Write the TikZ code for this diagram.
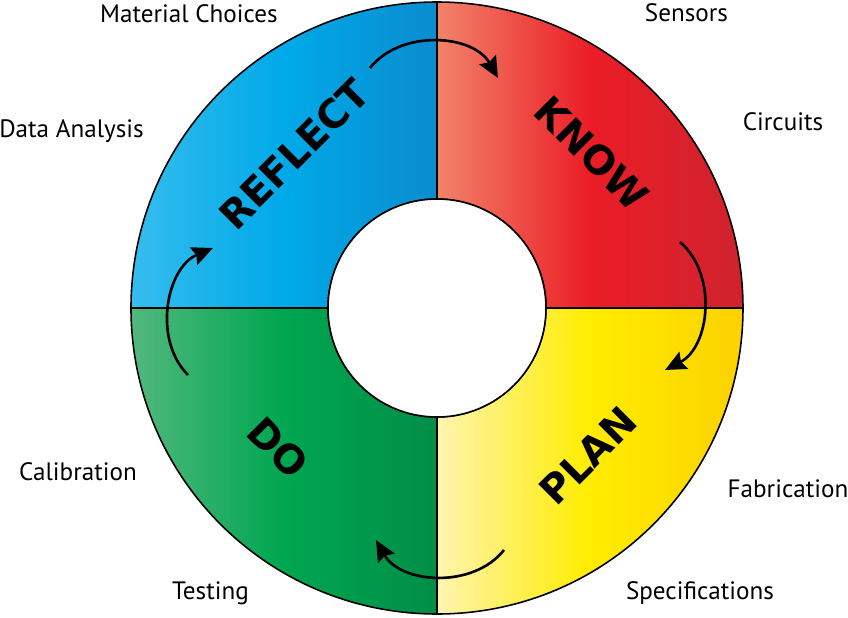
\documentclass[tikz,border=0pt]{standalone}
\usepackage{fontspec}
\setmainfont{PT Sans}
\newfontfamily\heavyfont{DejaVu Sans}
\usetikzlibrary{arrows.meta,positioning}
\definecolor{blueL}{HTML}{36BDEE}
\definecolor{blueM}{HTML}{00A9E8}
\definecolor{blueR}{HTML}{0A8CCF}
\definecolor{redL}{HTML}{F2836A}
\definecolor{redM}{HTML}{EB1D26}
\definecolor{redR}{HTML}{CF232F}
\definecolor{yelL}{HTML}{FFF4B0}
\definecolor{yelM}{HTML}{FFEC00}
\definecolor{yelR}{HTML}{FCD200}
\definecolor{grnL}{HTML}{52B87E}
\definecolor{grnM}{HTML}{00A650}
\definecolor{grnR}{HTML}{008E47}
\tikzset{
    sector/.style = {draw=black, line width=0.9pt},
    lab/.style = {anchor=base, inner sep=0pt, font=\fontsize{14.3}{17}\selectfont},
    phase/.style = {inner sep=0pt, font=\heavyfont\bfseries\fontsize{22.5}{26}\selectfont},
    cyc/.style = {-{Stealth[length=4.2mm,width=3.8mm,inset=0.6mm]}, line width=1.5pt, bend left=56}
}

\begin{document}
\begin{tikzpicture}
    \useasboundingbox (-8.74,-6.18) rectangle (8.22,6.16);

    % the four quadrants of the ring
    \path[sector, left color=blueL, right color=blueR, middle color=blueM]
        (0,2.18) -- (0,6.12) arc[start angle=90, end angle=180, radius=6.12]
        -- (-2.18,0) arc[start angle=180, end angle=90, radius=2.18] -- cycle;
    \path[sector, left color=redL, right color=redR, middle color=redM]
        (2.18,0) -- (6.12,0) arc[start angle=0, end angle=90, radius=6.12]
        -- (0,2.18) arc[start angle=90, end angle=0, radius=2.18] -- cycle;
    \path[sector, left color=yelL, right color=yelR, middle color=yelM]
        (0,-2.18) -- (0,-6.12) arc[start angle=-90, end angle=0, radius=6.12]
        -- (2.18,0) arc[start angle=0, end angle=-90, radius=2.18] -- cycle;
    \path[sector, left color=grnL, right color=grnR, middle color=grnM]
        (-2.18,0) -- (-6.12,0) arc[start angle=180, end angle=270, radius=6.12]
        -- (0,-2.18) arc[start angle=270, end angle=180, radius=2.18] -- cycle;
    \draw[sector, fill=white] (0,0) circle[radius=2.18];

    \node (reflect) at (-2.86,3.08) [phase, rotate=45] {REFLECT};
    \node (know) at (3.10,3.10) [phase, rotate=-45] {KNOW};
    \node (plan) at (3.02,-2.96) [phase, rotate=45] {PLAN};
    \node (do) at (-3.18,-2.80) [phase, rotate=-45] {DO};

    \node (matl) at (-4.96,5.72) [lab] {Material Choices};
    \node (sens) at (4.99,5.74) [lab] {Sensors};
    \node (data) at (-7.31,3.42) [lab] {Data Analysis};
    \node (circ) at (6.92,3.56) [lab] {Circuits};
    \node (calib) at (-7.18,-3.44) [lab] {Calibration};
    \node (fabr) at (7.02,-3.78) [lab] {Fabrication};
    \node (test) at (-4.53,-5.82) [lab] {Testing};
    \node (spec) at (5.26,-5.82) [lab] {Specifications};

    % cycle arrows
    \coordinate (t1) at (-1.34,4.80);
    \coordinate (t2) at (1.22,4.60);
    \coordinate (r1) at (4.86,1.32);
    \coordinate (r2) at (4.56,-1.24);
    \coordinate (b1) at (1.34,-4.84);
    \coordinate (b2) at (-1.22,-4.64);
    \coordinate (l1) at (-4.98,-1.34);
    \coordinate (l2) at (-4.48,1.20);
    \draw[cyc] (t1) to (t2);
    \draw[cyc] (r1) to (r2);
    \draw[cyc] (b1) to (b2);
    \draw[cyc] (l1) to (l2);
\end{tikzpicture}
\end{document}
